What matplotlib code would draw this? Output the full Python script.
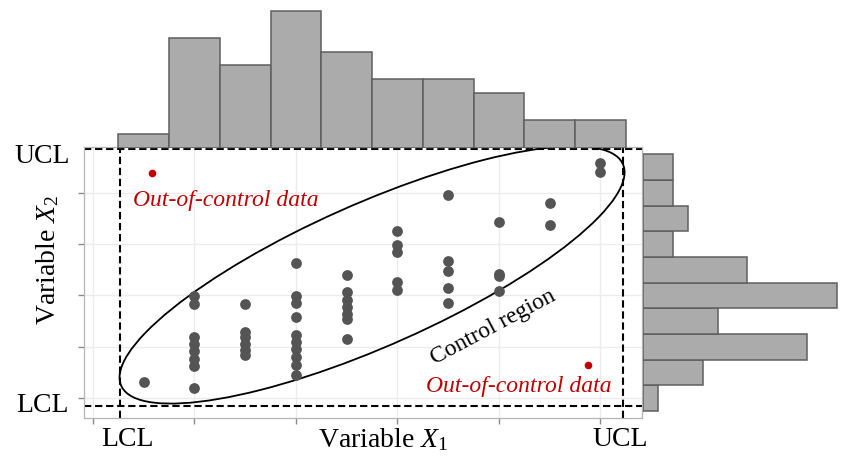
import numpy as np
import matplotlib
matplotlib.use("Agg")
import matplotlib.pyplot as plt
from matplotlib.patches import Ellipse
from matplotlib.transforms import blended_transform_factory

plt.rcParams['font.family'] = ['Liberation Serif', 'DejaVu Serif']
plt.rcParams['mathtext.fontset'] = 'custom'
plt.rcParams['mathtext.rm'] = 'Liberation Serif'
plt.rcParams['mathtext.it'] = 'Liberation Serif:italic'

# scatter data (columns of X1, values of X2)
x1 = [1,
      2, 2, 2, 2, 2, 2, 2, 2,
      3, 3, 3, 3, 3, 3,
      4, 4, 4, 4, 4, 4, 4, 4, 4, 4,
      5, 5, 5, 5, 5, 5, 5,
      6, 6, 6, 6, 6,
      7, 7, 7, 7, 7,
      8, 8, 8, 8,
      9, 9,
      10, 10]
x2 = [0.63,
      3.96, 3.68, 2.38, 2.12, 1.84, 1.54, 1.25, 0.38,
      3.68, 2.57, 2.36, 2.10, 1.86, 1.67,
      5.28, 3.98, 3.69, 3.15, 2.45, 2.17, 1.90, 1.60, 1.28, 0.89,
      4.78, 4.13, 3.81, 3.55, 3.29, 3.10, 2.32,
      6.52, 5.98, 5.68, 4.52, 4.23,
      7.92, 5.36, 4.97, 4.30, 3.71,
      6.85, 4.83, 4.74, 4.19,
      7.60, 6.75,
      9.15, 8.82]

# out-of-control points
out_x1 = [1.16, 9.76]
out_x2 = [8.77, 1.28]

# marginal histogram counts
top_bins = [1, 2, 3, 4, 5, 6, 7, 8, 9, 10]
top_counts = [1, 8, 6, 10, 7, 5, 5, 4, 2, 2]
right_bins = [0, 1, 2, 3, 4, 5, 6, 7, 8, 9]
right_counts = [1, 4, 11, 5, 13, 7, 2, 3, 2, 2]

# control limits
lcl_x1, ucl_x1 = 0.53, 10.45
lcl_x2, ucl_x2 = -0.33, 9.72

# control region ellipse
ell_center = (5.50, 4.80)
ell_width, ell_height, ell_angle = 13.4, 4.5, 45.3

W, H = 841, 463
fig = plt.figure(figsize=(W / 100, H / 100), dpi=100)

# main panel in pixels
pl, pr, pt, pb = 84, 641.5, 147.5, 418
ax = fig.add_axes([pl / W, (H - pb) / H, (pr - pl) / W, (pb - pt) / H])
ax.set_xlim(-0.177, 10.81)
ax.set_ylim(-0.78, 9.77)

ax.set_xticks([0, 2, 4, 6, 8, 10])
ax.set_yticks([0, 2, 4, 6, 8])
ax.set_xticklabels([])
ax.set_yticklabels([])
ax.tick_params(length=4, width=1, color='#8a8a8a', direction='out')
ax.grid(True, color='#ececec', lw=1.0)
ax.set_axisbelow(True)
for s in ax.spines.values():
    s.set_color('#b5b5b5')
    s.set_linewidth(0.9)

dash = (0, (3.5, 1.8))
ax.axvline(lcl_x1, color='black', ls=dash, lw=1.5)
ax.axvline(ucl_x1, color='black', ls=dash, lw=1.5)
ax.axhline(lcl_x2, color='black', ls=dash, lw=1.5)
ax.axhline(ucl_x2, color='black', ls=dash, lw=1.5, clip_on=False)

ax.add_patch(Ellipse(ell_center, ell_width, ell_height, angle=ell_angle,
                     fill=False, ec='black', lw=1.3, zorder=3))

ax.scatter(x1, x2, s=60, color='#545454', zorder=4, linewidths=0)
ax.scatter(out_x1, out_x2, s=30, color='#c00000', zorder=4, linewidths=0)

ax.text(2.62, 7.69, 'Out-of-control data', color='#c00000', style='italic',
        fontsize=17, ha='center', va='center')
ax.text(8.39, 0.43, 'Out-of-control data', color='#c00000', style='italic',
        fontsize=17, ha='center', va='center')
ax.text(7.88, 2.76, 'Control region', color='black', fontsize=17,
        rotation=28, ha='center', va='center', rotation_mode='anchor')

# axis labels
bx = blended_transform_factory(ax.transData, ax.transAxes)
ax.text(lcl_x1 + 0.15, -0.081, 'LCL', transform=bx, fontsize=20, ha='center', va='center')
ax.text(ucl_x1 - 0.05, -0.081, 'UCL', transform=bx, fontsize=20, ha='center', va='center')
ax.text(0.536, -0.081, r'Variable $\mathit{X}_1$', transform=ax.transAxes,
        fontsize=20, ha='center', va='center')
ax.text(-0.075, 0.965, 'UCL', transform=ax.transAxes, fontsize=20, ha='center', va='center')
ax.text(-0.075, 0.048, 'LCL', transform=ax.transAxes, fontsize=20, ha='center', va='center')
ax.text(-0.065, 0.584, r'Variable $\mathit{X}_2$', transform=ax.transAxes,
        fontsize=20, ha='center', va='center', rotation=90)

# top marginal histogram
axt = fig.add_axes([pl / W, (H - pt) / H, (pr - pl) / W, pt / H])
axt.bar(top_bins, top_counts, width=1.0, color='#ababab', edgecolor='#5f5f5f', lw=1.1)
axt.set_xlim(ax.get_xlim())
axt.set_ylim(0, pt / 13.7)
axt.axis('off')

# right marginal histogram
rl = 643
axr = fig.add_axes([rl / W, (H - pb) / H, (W - rl) / W, (pb - pt) / H])
axr.barh(right_bins, right_counts, height=1.0, color='#ababab', edgecolor='#5f5f5f', lw=1.1)
axr.set_ylim(ax.get_ylim())
axr.set_xlim(0, (W - rl) / 14.9)
axr.axis('off')

fig.savefig('out.png', dpi=100)
